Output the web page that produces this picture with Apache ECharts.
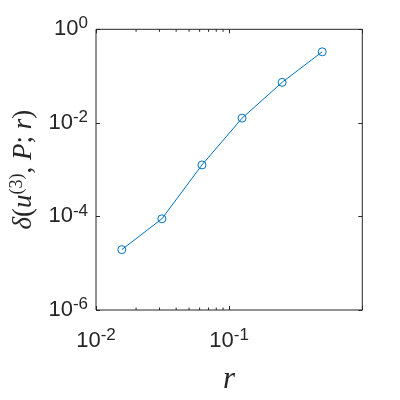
<!DOCTYPE html>
<html><head><meta charset="utf-8">
<script src="https://cdn.jsdelivr.net/npm/echarts@6/dist/echarts.min.js"></script>
<style>html,body{margin:0;padding:0;background:#fff}#c{width:400px;height:400px}</style>
</head><body><div id="c"></div>
<script>
const rValues = [0.015625, 0.03125, 0.0625, 0.125, 0.25, 0.5];
const deltaValues = [1.95e-5, 8.9e-5, 1.26e-3, 1.26e-2, 0.0735, 0.33];
const xMinorTicks = [0.02, 0.03, 0.04, 0.05, 0.06, 0.07, 0.08, 0.09];
const xRange = [0.01, 1];
const yRange = [1e-6, 1];

const TXT = '#262626';
const BLUE = '#0072BD';
const SANS = "'Liberation Sans Narrow', 'Liberation Sans', Arial, sans-serif";
function supLabel(v) {
  const e = Math.round(Math.log10(v));
  return '{b|10}{s|' + e + '}';
}
const labelRich = {
  b: {fontSize: 22, fontFamily: SANS, color: TXT},
  s: {fontSize: 17, fontFamily: SANS, color: TXT, padding: [0, 0, 11, 0]}
};
const mathRich = {
  i: {fontFamily: 'Liberation Serif', fontStyle: 'italic', fontSize: 27, color: TXT},
  n: {fontFamily: 'Liberation Serif', fontSize: 27, color: TXT},
  sup: {fontFamily: 'Liberation Serif', fontSize: 18, color: TXT, padding: [0, 0, 13, 0]}
};
const xTitleRich = {
  i: {fontFamily: 'Liberation Serif', fontStyle: 'italic', fontSize: 31, color: TXT}
};

const chart = echarts.init(document.getElementById('c'), null, {renderer: 'canvas'});
const grid = {left: 91.7, right: 37.7, top: 29.3, bottom: 88.3, show: true, borderColor: TXT, borderWidth: 1, backgroundColor: '#fff'};

chart.setOption({
  animation: false,
  grid: grid,
  xAxis: [{
    type: 'log', logBase: 10, min: xRange[0], max: xRange[1], interval: 1,
    position: 'bottom',
    axisLine: {show: false},
    axisTick: {show: true, inside: true, length: 4, lineStyle: {color: TXT}},
    splitLine: {show: false},
    axisLabel: {margin: 17, formatter: v => (v >= 0.99 ? '' : supLabel(v)), rich: labelRich},
    name: '{i|r}', nameLocation: 'middle', nameGap: 54,
    nameTextStyle: {rich: xTitleRich}
  }, {
    type: 'log', logBase: 10, min: xRange[0], max: xRange[1], interval: 1,
    position: 'top',
    axisLine: {show: false},
    axisTick: {show: true, inside: true, length: 4, lineStyle: {color: TXT}},
    axisLabel: {show: false}, splitLine: {show: false}
  }],
  yAxis: [{
    type: 'log', logBase: 10, min: yRange[0], max: yRange[1], interval: 2,
    position: 'left',
    axisLine: {show: false},
    axisTick: {show: true, inside: true, length: 4, lineStyle: {color: TXT}},
    splitLine: {show: false},
    axisLabel: {margin: 8, formatter: v => supLabel(v), rich: labelRich},
    name: '{i|δ}{n|(}{i|u}{sup|(3)}{n|, }{i|P}{n|; }{i|r}{n|)}',
    nameLocation: 'middle', nameRotate: 90, nameGap: 57,
    nameTextStyle: {rich: mathRich}
  }, {
    type: 'log', logBase: 10, min: yRange[0], max: yRange[1], interval: 2,
    position: 'right',
    axisLine: {show: false},
    axisTick: {show: true, inside: true, length: 4, lineStyle: {color: TXT}},
    axisLabel: {show: false}, splitLine: {show: false}
  }],
  series: [{
    type: 'line',
    data: rValues.map((r, i) => [r, deltaValues[i]]),
    symbol: 'circle', symbolSize: 8,
    lineStyle: {color: BLUE, width: 1},
    itemStyle: {color: 'rgba(255,255,255,0)', borderColor: BLUE, borderWidth: 1},
    z: 5
  }, {
    type: 'custom',
    data: xMinorTicks.map(v => [v, yRange[0]]),
    renderItem: function (params, api) {
      const pB = api.coord([api.value(0), yRange[0]]);
      const pT = api.coord([api.value(0), yRange[1]]);
      return {type: 'group', children: [
        {type: 'line', shape: {x1: pB[0], y1: pB[1], x2: pB[0], y2: pB[1] - 2.5}, style: {stroke: TXT, lineWidth: 1}},
        {type: 'line', shape: {x1: pT[0], y1: pT[1], x2: pT[0], y2: pT[1] + 2.5}, style: {stroke: TXT, lineWidth: 1}}
      ]};
    },
    silent: true, z: 3
  }]
});
</script></body></html>
